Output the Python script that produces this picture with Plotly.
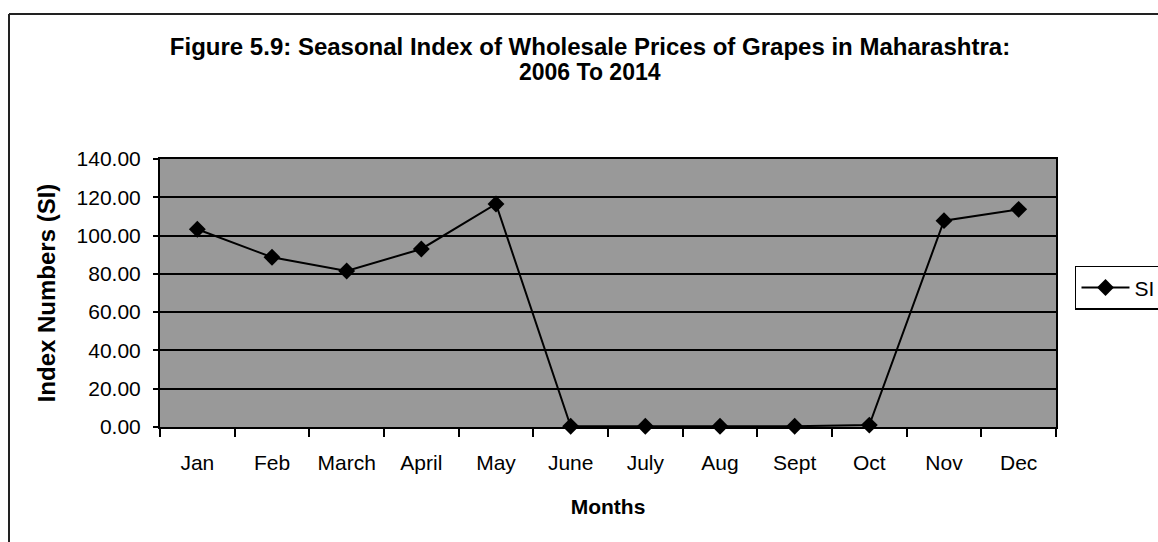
import plotly.graph_objects as go

months = ['Jan', 'Feb', 'March', 'April', 'May', 'June', 'July', 'Aug', 'Sept', 'Oct', 'Nov', 'Dec']
si_values = [103.3, 88.7, 81.5, 93.0, 116.5, 0.4, 0.4, 0.4, 0.4, 1.0, 107.8, 113.7]
y_ticks = [0, 20, 40, 60, 80, 100, 120, 140]

FONT = 'Liberation Sans, Arial, sans-serif'

fig = go.Figure()
fig.add_trace(go.Scatter(
    x=months,
    y=si_values,
    name='SI',
    mode='lines+markers',
    line=dict(color='black', width=2),
    marker=dict(symbol='diamond', size=13, color='black'),
    cliponaxis=False,
))

fig.update_layout(
    width=1158,
    height=542,
    margin=dict(l=160, r=102, t=159, b=115, autoexpand=False),
    paper_bgcolor='white',
    plot_bgcolor='#999999',
    font=dict(family=FONT, size=21, color='black'),
    title=dict(
        text='Figure 5.9: Seasonal Index of Wholesale Prices of Grapes in Maharashtra:',
        font=dict(family=FONT, size=24, color='black', weight='bold'),
        x=590 / 1158, xref='container', xanchor='center',
        y=1 - 47 / 542, yref='container', yanchor='middle',
    ),
    showlegend=True,
    legend=dict(
        x=1.0212, xanchor='left', y=0.519, yanchor='middle',
        bgcolor='white', bordercolor='black', borderwidth=1.5,
        itemwidth=48,
        font=dict(family=FONT, size=21, color='black'),
    ),
    xaxis=dict(
        type='category',
        range=[-0.5, 11.5],
        tickson='boundaries',
        ticks='outside', ticklen=8, tickwidth=2, tickcolor='black',
        showline=True, linecolor='black', linewidth=2, mirror=True,
        showgrid=False,
        ticklabelstandoff=16,
        title=dict(text='Months', font=dict(family=FONT, size=21, weight='bold'), standoff=26),
        tickfont=dict(family=FONT, size=21),
    ),
    yaxis=dict(
        range=[0, 140],
        tickvals=y_ticks,
        tickformat='.2f',
        ticks='outside', ticklen=5, tickwidth=2, tickcolor='black',
        showline=True, linecolor='black', linewidth=2, mirror=True,
        showgrid=True, gridcolor='black', gridwidth=2,
        zeroline=False,
        ticklabelstandoff=8,
        title=dict(text='Index Numbers (SI)', font=dict(family=FONT, size=24, weight='bold'), standoff=14),
        tickfont=dict(family=FONT, size=21),
    ),
)

# second title line
fig.add_annotation(
    text='2006 To 2014', xref='paper', yref='paper',
    x=(590 - 160) / 896, y=(427 - 72) / 268, xanchor='center', yanchor='middle',
    showarrow=False, font=dict(family=FONT, size=23, color='black', weight='bold'),
)

# outer chart border, only top and left edges are inside the picture
bx = (9 - 160) / 896
by = (427 - 14) / 268
fig.add_shape(type='line', xref='paper', yref='paper', x0=bx, x1=1.2, y0=by, y1=by,
              line=dict(color='#222222', width=2))
fig.add_shape(type='line', xref='paper', yref='paper', x0=bx, x1=bx, y0=by, y1=-0.6,
              line=dict(color='#222222', width=2))

fig.write_html('out.html', config={'displayModeBar': False},
               post_script="document.body.style.margin='0';")
